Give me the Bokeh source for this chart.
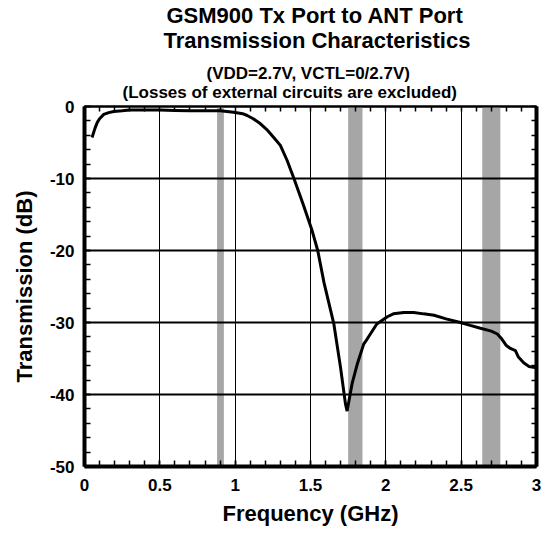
from bokeh.plotting import figure
from bokeh.models import FixedTicker, LinearAxis, Title
from bokeh.embed import file_html
from bokeh.resources import INLINE

# ---- data ----
freq_ghz = [0.05, 0.07, 0.085, 0.10, 0.128, 0.16, 0.195, 0.25, 0.30, 0.40,
            0.50, 0.60, 0.70, 0.80, 0.90, 0.99, 1.05, 1.08, 1.12, 1.168,
            1.21, 1.256, 1.30, 1.345, 1.39, 1.45, 1.51, 1.548, 1.59, 1.655,
            1.699, 1.732, 1.743, 1.776, 1.81, 1.853, 1.876, 1.94, 2.01, 2.05,
            2.12, 2.185, 2.25, 2.32, 2.40, 2.495, 2.56, 2.628, 2.70, 2.74,
            2.77, 2.80, 2.827, 2.86, 2.88, 2.915, 2.95, 3.0]
trans_db = [-4.3, -3.0, -2.2, -1.7, -1.1, -0.85, -0.7, -0.6, -0.5, -0.5,
            -0.5, -0.55, -0.6, -0.6, -0.6, -0.8, -1.0, -1.25, -1.7, -2.4,
            -3.2, -4.3, -5.4, -7.5, -10.0, -13.5, -17.2, -20.0, -24.5, -30.2,
            -36.2, -41.3, -42.3, -38.5, -35.8, -33.0, -32.3, -30.2, -29.2, -28.8,
            -28.6, -28.6, -28.8, -29.0, -29.5, -30.0, -30.4, -30.8, -31.2, -31.6,
            -32.3, -33.2, -33.6, -33.9, -34.8, -35.6, -36.1, -36.3]

band_left = [0.88, 1.75, 2.64]
band_right = [0.925, 1.845, 2.76]

x_ticks = [0, 0.5, 1, 1.5, 2, 2.5, 3]
x_tick_labels = ["0", "0.5", "1", "1.5", "2", "2.5", "3"]
y_ticks = [-50, -40, -30, -20, -10, 0]
y_tick_labels = ["-50", "-40", "-30", "-20", "-10", "0"]
x_minor = [round(i * 0.1, 1) for i in range(31)]
y_minor = list(range(-50, 1, 2))

title_lines = ["GSM900 Tx Port to ANT Port",
               "Transmission Characteristics",
               "(VDD=2.7V, VCTL=0/2.7V)",
               "(Losses of external circuits are excluded)"]

FONT = "Liberation Sans"

p = figure(x_range=(0, 3), y_range=(-50, 0),
           frame_width=452, frame_height=360,
           min_border_left=84, min_border_right=8,
           min_border_top=106, min_border_bottom=60,
           output_backend="svg", toolbar_location=None,
           background_fill_color="white", border_fill_color="white")

# bands (below grid)
p.quad(left=band_left, right=band_right, top=0, bottom=-50,
       fill_color="#a6a6a6", line_color=None, level="image")

# curve
p.line(freq_ghz, trans_db, line_color="black", line_width=3)

# grids
p.xgrid.ticker = FixedTicker(ticks=x_ticks)
p.ygrid.ticker = FixedTicker(ticks=y_ticks)
p.xgrid.grid_line_color = "black"
p.xgrid.grid_line_width = 1
p.ygrid.grid_line_color = "black"
p.ygrid.grid_line_width = 2

p.outline_line_color = "black"
p.outline_line_width = 2

# bottom axis
xa = p.xaxis[0]
xa.ticker = FixedTicker(ticks=x_ticks, minor_ticks=x_minor)
xa.major_label_overrides = dict(zip(x_ticks, x_tick_labels))
xa.axis_line_width = 4
xa.major_tick_in = 6
xa.major_tick_out = 0
xa.minor_tick_in = 6
xa.minor_tick_out = 0
xa.major_tick_line_width = 1.5
xa.minor_tick_line_width = 1.5
xa.major_label_standoff = 12
xa.major_label_text_font = FONT
xa.major_label_text_font_style = "bold"
xa.major_label_text_font_size = "17px"
xa.major_label_text_color = "black"
xa.axis_label = "Frequency (GHz)"
xa.axis_label_text_font = FONT
xa.axis_label_text_font_style = "bold"
xa.axis_label_text_font_size = "22px"
xa.axis_label_text_color = "black"
xa.axis_label_standoff = 7

# left axis
ya = p.yaxis[0]
ya.ticker = FixedTicker(ticks=y_ticks, minor_ticks=y_minor)
ya.major_label_overrides = dict(zip(y_ticks, y_tick_labels))
ya.axis_line_width = 4
ya.major_tick_in = 6
ya.major_tick_out = 0
ya.minor_tick_in = 6
ya.minor_tick_out = 0
ya.major_tick_line_width = 1.5
ya.minor_tick_line_width = 1.5
ya.major_label_standoff = 10
ya.major_label_text_font = FONT
ya.major_label_text_font_style = "bold"
ya.major_label_text_font_size = "17px"
ya.major_label_text_color = "black"
ya.axis_label = "Transmission (dB)"
ya.axis_label_text_font = FONT
ya.axis_label_text_font_style = "bold"
ya.axis_label_text_font_size = "22px"
ya.axis_label_text_color = "black"
ya.axis_label_standoff = 10

# right axis (ticks only)
ra = LinearAxis(ticker=FixedTicker(ticks=[], minor_ticks=y_minor),
                axis_line_width=4, minor_tick_in=5, minor_tick_out=0,
                minor_tick_line_width=1.5, major_label_standoff=0)
p.add_layout(ra, "right")

# top axis (ticks only)
ta = LinearAxis(ticker=FixedTicker(ticks=[], minor_ticks=x_minor),
                axis_line_width=2, minor_tick_in=5, minor_tick_out=0,
                major_tick_in=0, major_tick_out=0,
                minor_tick_line_width=1.5, major_label_standoff=0)
p.add_layout(ta, "above")

# title lines (added from the frame outward)
title_offsets = [82, 79, 122, 38]
title_sizes = ["22px", "22px", "17px", "17px"]
title_standoffs = [-37, 32, -14, 10]
for i in [3, 2, 1, 0]:
    p.add_layout(Title(text=title_lines[i], align="left",
                       offset=title_offsets[i], standoff=title_standoffs[i],
                       text_font=FONT, text_font_style="bold",
                       text_font_size=title_sizes[i], text_color="black"),
                 "above")

open("out.html", "w").write(file_html(p, INLINE))
